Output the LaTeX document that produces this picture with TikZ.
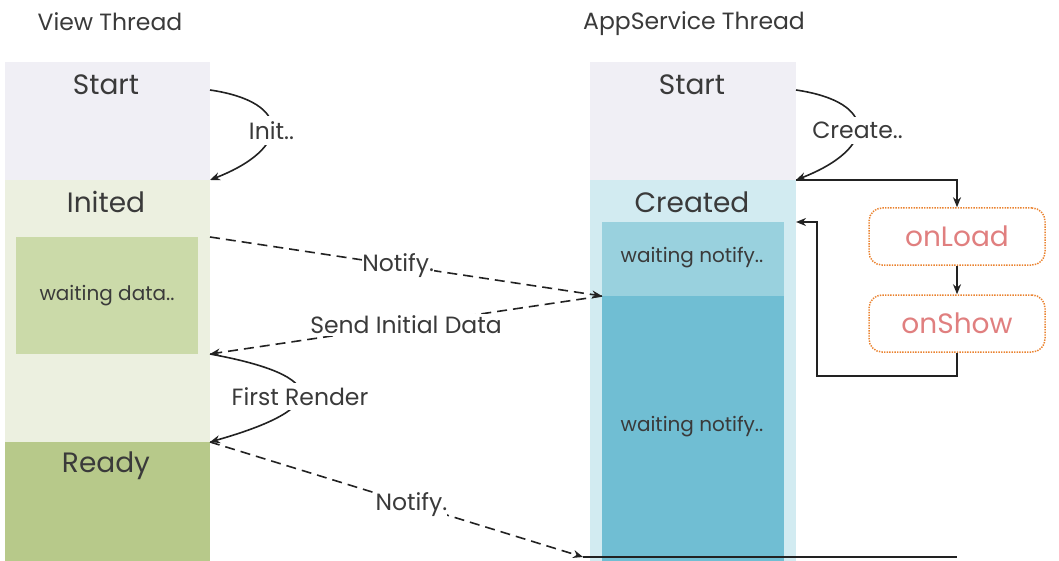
\documentclass[tikz,border=0pt]{standalone}
\usepackage{fontspec}
\setmainfont{Poppins}
\usetikzlibrary{arrows.meta,calc}
\definecolor{startc}{HTML}{F0EFF5}
\definecolor{initc}{HTML}{ECF0E0}
\definecolor{waitdc}{HTML}{CBDAA9}
\definecolor{readyc}{HTML}{B7C98A}
\definecolor{createdc}{HTML}{D2EBF1}
\definecolor{waitac}{HTML}{99D1DE}
\definecolor{waitbc}{HTML}{70BED3}
\definecolor{linec}{HTML}{222222}
\definecolor{orangec}{HTML}{EA8330}
\definecolor{salmonc}{HTML}{E07F7F}
\definecolor{txtc}{HTML}{3A3A3A}
\begin{document}
\begin{tikzpicture}[x=1pt,y=-1pt,
  region/.style={draw=none,inner sep=0pt,outer sep=0pt},
  title/.style={font=\fontsize{28}{32}\selectfont,text=txtc,inner sep=0pt},
  small/.style={font=\fontsize{20}{24}\selectfont,text=txtc,inner sep=0pt},
  head/.style={font=\fontsize{23.5}{28}\selectfont,text=txtc,inner sep=0pt},
  lbl/.style={font=\fontsize{23.5}{28}\selectfont,text=txtc,fill=white,inner sep=2pt},
  conn/.style={draw=linec,line width=1.6pt,-{Stealth[length=10pt,width=8pt]}},
  dconn/.style={conn,dash pattern=on 10pt off 6pt},
  hook/.style={draw=orangec,line width=1.5pt,dash pattern=on 1.4pt off 1.2pt,rounded corners=13pt,
    minimum width=176pt,minimum height=57pt,inner sep=0pt,
    font=\fontsize{28}{32}\selectfont,text=salmonc}
]
\useasboundingbox (0,0) rectangle (1059,561);
% view thread
\node[head] (vt) at (110,22) {View Thread};
\node[region,fill=startc,minimum width=205pt,minimum height=118pt] (vstart) at (107.5,121) {};
\node[region,fill=initc,minimum width=205pt,minimum height=262pt] (vinited) at (107.5,311) {};
\node[region,fill=waitdc,minimum width=182pt,minimum height=117pt] (vwait) at (107,295.5) {};
\node[region,fill=readyc,minimum width=205pt,minimum height=119pt] (vready) at (107.5,501.5) {};
\node[title] (vstartt) at (106,85) {Start};
\node[title] (vinitedt) at (106,202) {Inited};
\node[small] (vwaitt) at (107,296) {waiting data..};
\node[title] (vreadyt) at (106,466) {Ready};
% appservice thread
\node[head] (at) at (694,24) {AppService Thread};
\node[region,fill=startc,minimum width=206pt,minimum height=118pt] (astart) at (693,121) {};
\node[region,fill=createdc,minimum width=206pt,minimum height=381pt] (acreated) at (693,370.5) {};
\node[region,fill=waitac,minimum width=182pt,minimum height=74pt] (await1) at (693,259) {};
\node[region,fill=waitbc,minimum width=182pt,minimum height=265pt] (await2) at (693,428.5) {};
\node[title] (astartt) at (692,85) {Start};
\node[title] (acreatedt) at (692,202) {Created};
\node[small] (await1t) at (692,258) {waiting notify..};
\node[small] (await2t) at (692,427) {waiting notify..};
% hooks
\node[hook] (onload) at (957,236.5) {onLoad};
\node[hook] (onshow) at (957,323.5) {onShow};
% coordinates
\coordinate (vinitR) at (vinited.east |- vstart.south);
\coordinate (vwaitTop) at (vinited.east |- vwait.north);
\coordinate (vwaitBot) at (vinited.east |- vwait.south);
\coordinate (aw) at (await1.south west);
\coordinate (bottomL) at (583,557);
\coordinate (bottomR) at (onshow.south |- bottomL);
\coordinate (retTurn) at (817,376);
% connectors
\draw[conn] ([yshift=31pt]vstart.east) .. controls +(82,12) and +(82,-32) ..
  node[lbl,inner sep=5pt,pos=0.5,yshift=-3pt] {Init..} (vinitR);
\draw[conn] ([yshift=31pt]astart.east) .. controls +(82,12) and +(82,-32) ..
  node[lbl,inner sep=5pt,pos=0.5,yshift=-3pt] {Create..} (acreated.north east);
\draw[dconn] (vwaitTop) -- node[lbl,pos=0.48,inner xsep=0pt] {Notify.} (aw);
\draw[dconn] (aw) -- node[lbl,pos=0.5] {Send Initial Data} (vwaitBot);
\draw[conn] (vwaitBot) .. controls +(120,22) and +(120,-34) ..
  node[lbl,inner sep=4pt,pos=0.5,yshift=-3pt] {First Render} (vready.north east);
\draw[dconn] (vready.north east) -- node[lbl,pos=0.54,inner xsep=0pt] {Notify.} (bottomL);
\draw[draw=linec,line width=1.8pt] (bottomL) -- (bottomR);
\draw[conn] (acreated.north east) -| (onload.north);
\draw[conn] (onload.south) -- (onshow.north);
\draw[conn] (onshow.south) |- (retTurn) |- (acreated.east |- await1.north);
\end{tikzpicture}
\end{document}
